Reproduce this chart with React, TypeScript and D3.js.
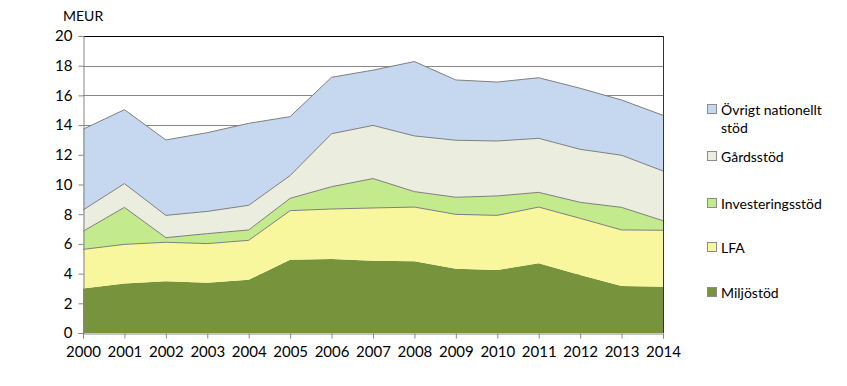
import React, { useEffect, useRef } from "react";
import * as d3 from "d3";

const years = [2000, 2001, 2002, 2003, 2004, 2005, 2006, 2007, 2008, 2009, 2010, 2011, 2012, 2013, 2014];
const miljostod = [3.0, 3.33, 3.48, 3.38, 3.59, 4.93, 4.98, 4.87, 4.84, 4.32, 4.24, 4.69, 3.9, 3.16, 3.12];
const lfa = [2.63, 2.64, 2.63, 2.64, 2.65, 3.31, 3.37, 3.55, 3.64, 3.67, 3.68, 3.79, 3.82, 3.78, 3.8];
const investeringsstod = [1.22, 2.49, 0.31, 0.67, 0.7, 0.83, 1.5, 1.98, 1.04, 1.15, 1.31, 0.99, 1.08, 1.52, 0.64];
const gardsstod = [1.43, 1.6, 1.5, 1.5, 1.66, 1.53, 3.57, 3.58, 3.75, 3.84, 3.7, 3.64, 3.57, 3.51, 3.35];
const ovrigt = [5.44, 4.98, 5.08, 5.3, 5.52, 3.97, 3.8, 3.72, 5.01, 4.06, 3.97, 4.08, 4.11, 3.72, 3.75];

const seriesKeys = ["Miljöstöd", "LFA", "Investeringsstöd", "Gårdsstöd", "Övrigt nationellt stöd"];
const seriesValues = [miljostod, lfa, investeringsstod, gardsstod, ovrigt];
const colors = ["#77933C", "#F8F79D", "#C3EA8D", "#EBEDDF", "#C6D7F0"];
const yTicks = [0, 2, 4, 6, 8, 10, 12, 14, 16, 18, 20];

// legend order top -> bottom
const legendItems = [
  { lines: ["Övrigt nationellt", "stöd"], color: colors[4], y: 110 },
  { lines: ["Gårdsstöd"], color: colors[3], y: 157 },
  { lines: ["Investeringsstöd"], color: colors[2], y: 204 },
  { lines: ["LFA"], color: colors[1], y: 248 },
  { lines: ["Miljöstöd"], color: colors[0], y: 293 },
];

const FONT = "Lato, 'Open Sans', sans-serif";

export default function App() {
  const ref = useRef<SVGSVGElement>(null);

  useEffect(() => {
    const width = 847;
    const height = 386;
    const left = 83, right = 663, top = 36, bottom = 333;

    const svg = d3.select(ref.current).attr("width", width).attr("height", height);
    svg.selectAll("*").remove();

    const table = years.map((yr, i) => {
      const row: any = { year: yr };
      seriesKeys.forEach((k, j) => (row[k] = seriesValues[j][i]));
      return row;
    });
    const stacked = d3.stack<any>().keys(seriesKeys)(table);

    const x = d3.scaleLinear().domain([years[0], years[years.length - 1]]).range([left, right]);
    const y = d3.scaleLinear().domain([0, 20]).range([bottom, top]);

    svg.append("rect").attr("width", width).attr("height", height).attr("fill", "#fff");

    // grid
    svg.append("g")
      .selectAll("line")
      .data(yTicks.filter((t) => t > 0 && t < 20))
      .join("line")
      .attr("x1", left)
      .attr("x2", right)
      .attr("y1", (d) => Math.round(y(d)) + 0.5)
      .attr("y2", (d) => Math.round(y(d)) + 0.5)
      .attr("stroke", "#868686")
      .attr("stroke-width", 1);

    const area = d3.area<any>()
      .x((d) => x(d.data.year))
      .y0((d) => y(d[0]))
      .y1((d) => y(d[1]));
    const topLine = d3.line<any>()
      .x((d) => x(d.data.year))
      .y((d) => y(d[1]));

    svg.append("g")
      .selectAll("path")
      .data(stacked)
      .join("path")
      .attr("d", (d) => area(d as any))
      .attr("fill", (d, i) => colors[i]);

    svg.append("g")
      .selectAll("path")
      .data(stacked.slice(1))
      .join("path")
      .attr("d", (d) => topLine(d as any))
      .attr("fill", "none")
      .attr("stroke", "#7f7f7f")
      .attr("stroke-width", 1);

    // plot border (top/right)
    svg.append("line").attr("x1", left).attr("x2", right + 0.5).attr("y1", top + 0.5).attr("y2", top + 0.5).attr("stroke", "#000");
    svg.append("line").attr("x1", right + 0.5).attr("x2", right + 0.5).attr("y1", top).attr("y2", bottom).attr("stroke", "#333");

    // y axis
    const yAxis = svg.append("g").attr("transform", `translate(${left + 0.5},0)`)
      .call(d3.axisLeft(y).tickValues(yTicks).tickSize(5).tickPadding(6));
    yAxis.select(".domain").attr("stroke", "#868686");
    yAxis.selectAll(".tick line").attr("stroke", "#868686");
    yAxis.selectAll(".tick text").attr("font-family", FONT).attr("font-size", 15).attr("fill", "#000");

    // x axis
    const xAxis = svg.append("g").attr("transform", `translate(0,${bottom + 0.5})`)
      .call(d3.axisBottom(x).tickValues(years).tickFormat(d3.format("d")).tickSize(5).tickPadding(8));
    xAxis.select(".domain").attr("stroke", "#868686");
    xAxis.selectAll(".tick line").attr("stroke", "#868686");
    xAxis.selectAll(".tick text").attr("font-family", FONT).attr("font-size", 15).attr("fill", "#000");

    svg.append("text")
      .attr("x", 63)
      .attr("y", 21)
      .attr("font-family", FONT)
      .attr("font-size", 14)
      .text("MEUR");

    // legend
    const lg = svg.append("g");
    legendItems.forEach((item) => {
      lg.append("rect")
        .attr("x", 707.5)
        .attr("y", item.y - 5.5)
        .attr("width", 9)
        .attr("height", 9)
        .attr("fill", item.color)
        .attr("stroke", "#8c8c8c")
        .attr("stroke-width", 1);
      item.lines.forEach((ln, k) => {
        lg.append("text")
          .attr("x", 721)
          .attr("y", item.y + k * 18)
          .attr("dy", "0.35em")
          .attr("font-family", FONT)
          .attr("font-size", 14)
          .text(ln);
      });
    });
  }, []);

  return <svg ref={ref} style={{ display: "block", margin: "-8px" }}></svg>;
}
